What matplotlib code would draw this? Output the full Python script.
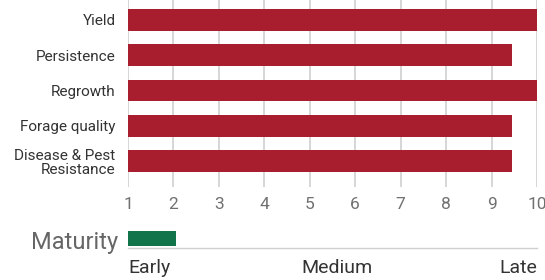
import matplotlib
matplotlib.use("Agg")
import matplotlib.pyplot as plt

plt.rcParams['font.family'] = ['Roboto', 'DejaVu Sans']

# ratings, scale 1-10
traits = ["Yield", "Persistence", "Regrowth", "Forage quality", "Disease & Pest\nResistance"]
scores = [10, 9.45, 10, 9.46, 9.45]
ticks = [1, 2, 3, 4, 5, 6, 7, 8, 9, 10]

maturity = 2.05
maturity_labels = ["Early", "Medium", "Late"]
maturity_pos = [1, 5.6, 10]

red = "#a81e2f"
green = "#11744b"
grid = "#d0d0d0"

fig = plt.figure(figsize=(5.45, 2.8), dpi=100)

W, H = 545, 280
x0, x1 = 128 / W, 537 / W
ax = fig.add_axes([x0, (H - 187) / H, x1 - x0, 187 / H])

ys = list(range(len(traits)))
ax.barh(ys, [s - 1 for s in scores], left=1, height=0.62, color=red, zorder=3)
ax.set_xlim(1, 10)
ax.set_ylim(4.73, -0.56)
ax.set_xticks(ticks)
ax.set_xticklabels([str(t) for t in ticks], fontsize=12.5, color="#707070")
ax.tick_params(axis="x", length=0, pad=7)
ax.set_yticks(ys)
ax.set_yticklabels(traits, fontsize=11, color="#333333", linespacing=1.0)
ax.tick_params(axis="y", length=0, pad=9)
ax.xaxis.grid(True, color=grid, linewidth=1.2, zorder=0)
for s in ax.spines.values():
    s.set_visible(False)

# maturity strip
mx = fig.add_axes([x0, (H - 248) / H, x1 - x0, 20 / H])
mx.barh([0], [maturity - 1], left=1, height=0.75, color=green, zorder=3)
mx.set_xlim(1, 10)
mx.set_ylim(-0.5, 0.5)
mx.set_yticks([])
mx.set_xticks([])
for k in ["top", "left", "right"]:
    mx.spines[k].set_visible(False)
mx.spines["bottom"].set_color(grid)
mx.spines["bottom"].set_linewidth(1.0)
mx.text(-0.025, 0.3, "Maturity", transform=mx.transAxes, ha="right", va="center",
        fontsize=17, color="#666666")

aligns = ["left", "center", "right"]
for lab, pos, ha in zip(maturity_labels, maturity_pos, aligns):
    mx.text(pos, -1.5, lab, ha=ha, va="center", fontsize=14, color="#333333")

fig.savefig("out.png", dpi=100)
